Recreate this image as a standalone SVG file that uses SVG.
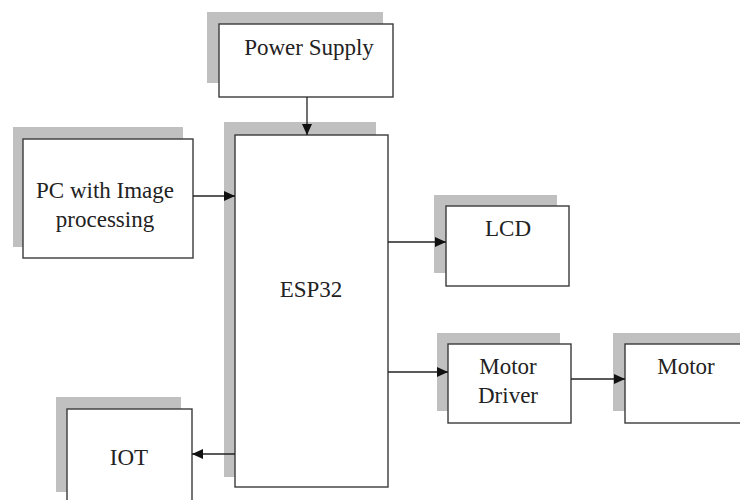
<svg xmlns="http://www.w3.org/2000/svg" width="740" height="500" viewBox="0 0 740 500">
<style>
.shadow{fill:#c0c0c0;stroke:none}
.box{fill:#fff;stroke:#3a3a3a;stroke-width:1.4}
.lbl{font-family:"Liberation Serif","Times New Roman",serif;font-size:23px;fill:#222;text-anchor:middle}
.conn{stroke:#222;stroke-width:1.3;fill:none;marker-end:url(#arr)}
</style>
<defs>
<marker id="arr" markerWidth="11" markerHeight="10" refX="11" refY="5" orient="auto" markerUnits="userSpaceOnUse">
<path d="M0,0 L11,5 L0,10 Z" fill="#111"/>
</marker>
</defs>
<rect width="740" height="500" fill="#fff"/>
<g id="power-supply">
<rect class="shadow" x="207" y="12" width="176" height="71"/>
<rect class="box" x="219" y="24" width="174" height="73"/>
<text class="lbl" x="309" y="55">Power Supply</text>
</g>
<g id="pc">
<rect class="shadow" x="13" y="127" width="170" height="120"/>
<rect class="box" x="23" y="139" width="170" height="119"/>
<text class="lbl" x="105" y="198">PC with Image</text>
<text class="lbl" x="105" y="227">processing</text>
</g>
<g id="esp32">
<rect class="shadow" x="224" y="122" width="152" height="355"/>
<rect class="box" x="235" y="135" width="153" height="352"/>
<text class="lbl" x="311" y="297">ESP32</text>
</g>
<g id="lcd">
<rect class="shadow" x="434" y="195" width="123" height="78"/>
<rect class="box" x="446" y="206" width="123" height="80"/>
<text class="lbl" x="508" y="236">LCD</text>
</g>
<g id="motor-driver">
<rect class="shadow" x="437" y="333" width="123" height="78"/>
<rect class="box" x="448" y="344" width="123" height="79"/>
<text class="lbl" x="508" y="374">Motor</text>
<text class="lbl" x="508" y="403">Driver</text>
</g>
<g id="motor">
<rect class="shadow" x="613" y="333" width="130" height="78"/>
<rect class="box" x="625" y="344" width="120" height="79"/>
<text class="lbl" x="686" y="374">Motor</text>
</g>
<g id="iot">
<rect class="shadow" x="56" y="397" width="125" height="95"/>
<rect class="box" x="67" y="409" width="125" height="100"/>
<text class="lbl" x="129" y="465">IOT</text>
</g>
<g id="connectors">
<line class="conn" x1="307" y1="97" x2="307" y2="135"/>
<line class="conn" x1="193" y1="196" x2="235" y2="196"/>
<line class="conn" x1="388" y1="242" x2="446" y2="242"/>
<line class="conn" x1="388" y1="372" x2="448" y2="372"/>
<line class="conn" x1="571" y1="379" x2="625" y2="379"/>
<line class="conn" x1="235" y1="454" x2="192" y2="454"/>
</g>
</svg>
